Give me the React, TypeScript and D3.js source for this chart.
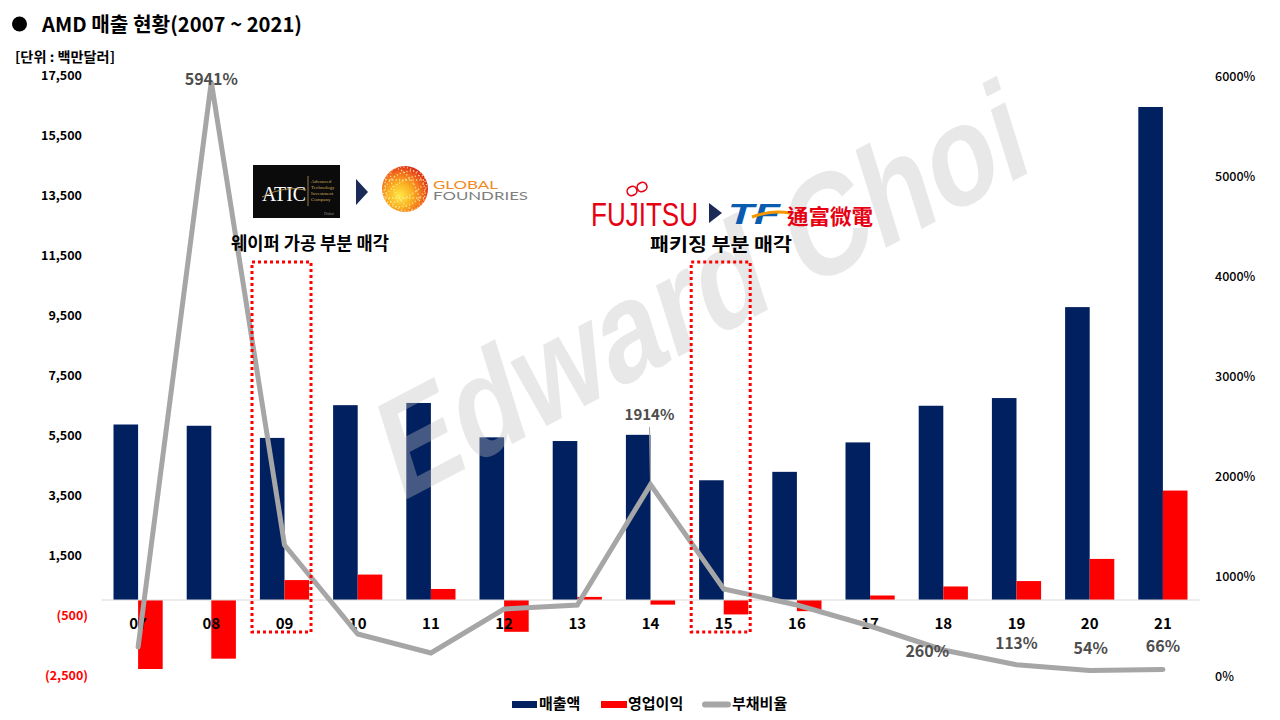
import React from 'react';
import * as d3 from 'd3';

const categories = ['07', '08', '09', '10', '11', '12', '13', '14', '15', '16', '17', '18', '19', '20', '21'];
const revenue = [5850, 5808, 5403, 6494, 6568, 5422, 5299, 5506, 3991, 4272, 5253, 6475, 6731, 9763, 16434];
const operatingIncome = [-2300, -1955, 664, 848, 368, -1060, 103, -155, -481, -372, 150, 451, 631, 1369, 3648];
const debtRatio = [290, 5941, 1310, 420, 230, 670, 710, 1914, 870, 710, 500, 260, 113, 54, 66];
const leftTicks = [-2500, -500, 1500, 3500, 5500, 7500, 9500, 11500, 13500, 15500, 17500];
const rightTicks = [0, 1000, 2000, 3000, 4000, 5000, 6000];
const labeledPoints = ['08', '14', '18', '19', '20', '21'];
const legendItems = ['매출액', '영업이익', '부채비율'];
const highlighted = ['09', '15'];

const KR = '"Noto Sans CJK KR", "Noto Sans", sans-serif';
const NAVY = '#002060';
const RED = '#ff0000';
const GRAY = '#a6a6a6';

export default function App() {
  const x = d3.scaleBand<string>().domain(categories).range([101.5, 1199.5]).padding(0);
  const step = x.step();
  const cx = (c: string) => (x(c) as number) + step / 2;
  const bw = step * 0.336;
  const yL = d3.scaleLinear().domain([-2500, 17500]).range([675, 75]);
  const yR = d3.scaleLinear().domain([0, 6000]).range([676, 76]);
  const fmt = d3.format(',');
  const line = d3
    .line<number>()
    .x((_, i) => cx(categories[i]))
    .y((d) => yR(d));

  // label placements (style, not data)
  const labelStyle: Record<string, { dx: number; y: (v: number) => number; size: number; weight: number }> = {
    '08': { dx: 0, y: (v) => yR(v) + 3, size: 16, weight: 700 },
    '14': { dx: -1, y: (v) => yR(v) - 65, size: 15, weight: 700 },
    '18': { dx: -16, y: (v) => yR(v) + 7, size: 16, weight: 600 },
    '19': { dx: 0, y: (v) => yR(v) - 16, size: 15.5, weight: 600 },
    '20': { dx: 1, y: (v) => yR(v) - 17, size: 16, weight: 600 },
    '21': { dx: 0, y: (v) => yR(v) - 17, size: 16, weight: 600 },
  };

  return (
    <svg
      width={1280}
      height={720}
      viewBox="0 0 1280 720"
      style={{ position: 'absolute', left: 0, top: 0, background: '#fff' }}
    >
      <defs>
        <radialGradient id="globe" cx="40%" cy="62%" r="65%" fx="38%" fy="65%">
          <stop offset="0%" stopColor="#ffe94a" />
          <stop offset="40%" stopColor="#fbb324" />
          <stop offset="75%" stopColor="#f26a1f" />
          <stop offset="100%" stopColor="#d9251c" />
        </radialGradient>
        <clipPath id="globeClip">
          <circle cx={405} cy={189} r={23} />
        </clipPath>
      </defs>

      {/* Title */}
      <circle cx={19.5} cy={24} r={7.5} fill="#000" />
      <text x={42} y={31.5} fontFamily={KR} fontSize={20.5} fontWeight={700} fill="#000" textLength={260} lengthAdjust="spacingAndGlyphs">
        AMD 매출 현황(2007 ~ 2021)
      </text>
      <text x={15} y={62} fontFamily={KR} fontSize={13.5} fontWeight={700} fill="#000" textLength={100} lengthAdjust="spacingAndGlyphs">
        [단위 : 백만달러]
      </text>

      {/* Left axis labels */}
      {leftTicks.map((t) => (
        <text
          key={t}
          x={t < 0 ? 88 : 82}
          y={yL(t) + 4.5}
          textAnchor="end"
          fontFamily={KR}
          fontSize={12.5}
          fontWeight={700}
          fill={t < 0 ? RED : '#000'}
        >
          {t < 0 ? `(${fmt(-t)})` : fmt(t)}
        </text>
      ))}

      {/* Right axis labels */}
      {rightTicks.map((t) => (
        <text key={t} x={1215} y={yR(t) + 4.5} fontFamily={KR} fontSize={12.5} fontWeight={500} fill="#000">
          {`${t}%`}
        </text>
      ))}

      {/* Bars */}
      {categories.map((c, i) => (
        <g key={c}>
          <rect x={cx(c) - bw} y={yL(Math.max(0, revenue[i]))} width={bw} height={Math.abs(yL(revenue[i]) - yL(0))} fill={NAVY} />
          <rect
            x={cx(c)}
            y={yL(Math.max(0, operatingIncome[i]))}
            width={bw}
            height={Math.abs(yL(operatingIncome[i]) - yL(0))}
            fill={RED}
          />
        </g>
      ))}

      {/* Zero axis line */}
      <line x1={101.5} x2={1199.5} y1={yL(0)} y2={yL(0)} stroke="#d9d9d9" strokeWidth={1.2} />

      {/* Category labels */}
      {categories.map((c) => (
        <text key={c} x={cx(c)} y={629} textAnchor="middle" fontFamily={KR} fontSize={15} fontWeight={700} fill="#000">
          {c}
        </text>
      ))}

      {/* Watermark */}
      <text
        transform="translate(400,503) scale(0.8,1.04) rotate(-22)"
        fontFamily='"Liberation Sans", Arial, sans-serif'
        fontSize={140}
        fontWeight={700}
        fill="#bfbfbf"
        fillOpacity={0.36}
      >
        Edward Choi
      </text>

      {/* Debt ratio line */}
      <path d={line(debtRatio) || ''} fill="none" stroke={GRAY} strokeWidth={5} strokeLinejoin="miter" strokeLinecap="round" />
      <line x1={cx('14') - 1} x2={cx('14')} y1={427} y2={yR(debtRatio[7])} stroke={GRAY} strokeWidth={1} />

      {labeledPoints.map((c) => {
        const i = categories.indexOf(c);
        const s = labelStyle[c];
        return (
          <text
            key={c}
            x={cx(c) + s.dx}
            y={s.y(debtRatio[i])}
            textAnchor="middle"
            fontFamily={KR}
            fontSize={s.size}
            fontWeight={s.weight}
            fill="#4d4d4d"
          >
            {`${debtRatio[i]}%`}
          </text>
        );
      })}

      {/* Highlight boxes */}
      {highlighted.map((c) => (
        <rect
          key={c}
          x={cx(c) - 32.5}
          y={262}
          width={59}
          height={370}
          fill="none"
          stroke={RED}
          strokeWidth={3}
          strokeDasharray="3 3"
        />
      ))}

      {/* ATIC -> GLOBALFOUNDRIES */}
      <rect x={253} y={165} width={87} height={53} fill="#0b0b0b" />
      <text x={262} y={201} fontFamily='"Liberation Serif", serif' fontSize={21} fill="#fff" textLength={44} lengthAdjust="spacingAndGlyphs">
        ATIC
      </text>
      <path d="M262 197 Q285 185 306 190" fill="none" stroke="#c9a55a" strokeWidth={0.8} />
      <line x1={308} x2={308} y1={176} y2={206} stroke="#b8985a" strokeWidth={0.8} />
      {['Advanced', 'Technology', 'Investment', 'Company'].map((w, k) => (
        <text key={w} x={311} y={183 + k * 6} fontFamily='"Liberation Serif", serif' fontSize={5} fill="#c9a55a">
          {w}
        </text>
      ))}
      <text x={324} y={215} fontFamily='"Liberation Serif", serif' fontSize={4} fill="#888">
        Dubai
      </text>
      <path d="M356 179 L368 192 L356 205 Z" fill="#1c2a58" />
      <circle cx={405} cy={189} r={23} fill="url(#globe)" />
      <g clipPath="url(#globeClip)" fill="none" stroke="#fff3a0" strokeWidth={1.3} strokeDasharray="1.2 2.2" opacity={0.85}>
        <ellipse cx={405} cy={189} rx={10} ry={23} transform="rotate(-30 405 189)" />
        <ellipse cx={405} cy={189} rx={19} ry={23} transform="rotate(-30 405 189)" />
        <ellipse cx={405} cy={189} rx={23} ry={8} transform="rotate(-30 405 189)" />
        <ellipse cx={405} cy={189} rx={23} ry={16} transform="rotate(-30 405 189)" />
        <line x1={382} x2={428} y1={180} y2={180} />
        <line x1={382} x2={428} y1={198} y2={198} />
      </g>
      <text x={433} y={189} fontFamily='"Lato", "Noto Sans", sans-serif' fontSize={10.5} fontWeight={400} fill="#f08a24" textLength={65} lengthAdjust="spacingAndGlyphs">
        GLOBAL
      </text>
      <text x={433} y={199.5} fontFamily='"Lato", "Noto Sans", sans-serif' fontSize={10.5} fontWeight={400} fill="#7f7f7f" textLength={95} lengthAdjust="spacingAndGlyphs">
        FOUNDRIES
      </text>
      <text x={310} y={250} textAnchor="middle" fontFamily={KR} fontSize={18} fontWeight={700} fill="#000" textLength={158} lengthAdjust="spacingAndGlyphs">
        웨이퍼 가공 부분 매각
      </text>

      {/* FUJITSU -> TF */}
      <text x={591} y={226} fontFamily='"Liberation Sans", Arial, sans-serif' fontSize={33} fill="#e60012" textLength={107} lengthAdjust="spacingAndGlyphs">
        FUJITSU
      </text>
      <g fill="none" stroke="#e60012" strokeWidth={1.6}>
        <ellipse cx={632} cy={191} rx={5} ry={4.5} transform="rotate(-25 632 191)" />
        <ellipse cx={642} cy={187} rx={5} ry={4.5} transform="rotate(-25 642 187)" />
      </g>
      <path d="M709 203 L722 213 L709 223 Z" fill="#1c2a58" />
      <text x={728} y={224} fontFamily='"Liberation Sans", Arial, sans-serif' fontSize={29} fontWeight={700} fontStyle="italic" fill="#0a5cb0" textLength={52} lengthAdjust="spacingAndGlyphs">
        TF
      </text>
      <path d="M752 217 Q770 210 790 213" fill="none" stroke="#f39800" strokeWidth={3} />
      <text x={787} y={224} fontFamily='"Noto Sans CJK TC", sans-serif' fontSize={21} fontWeight={700} fill="#e60012" textLength={86} lengthAdjust="spacingAndGlyphs">
        通富微電
      </text>
      <text x={721} y={251} textAnchor="middle" fontFamily={KR} fontSize={18} fontWeight={700} fill="#000" textLength={142} lengthAdjust="spacingAndGlyphs">
        패키징 부분 매각
      </text>

      {/* Legend */}
      <rect x={512} y={701} width={25} height={7} fill={NAVY} />
      <text x={539} y={709} fontFamily={KR} fontSize={15} fontWeight={600} fill="#000">
        {legendItems[0]}
      </text>
      <rect x={601} y={701} width={26} height={7} fill={RED} />
      <text x={628} y={709} fontFamily={KR} fontSize={15} fontWeight={600} fill="#000">
        {legendItems[1]}
      </text>
      <line x1={705} x2={728} y1={704.5} y2={704.5} stroke={GRAY} strokeWidth={6} strokeLinecap="round" />
      <text x={732} y={709} fontFamily={KR} fontSize={15} fontWeight={600} fill="#000">
        {legendItems[2]}
      </text>
    </svg>
  );
}
